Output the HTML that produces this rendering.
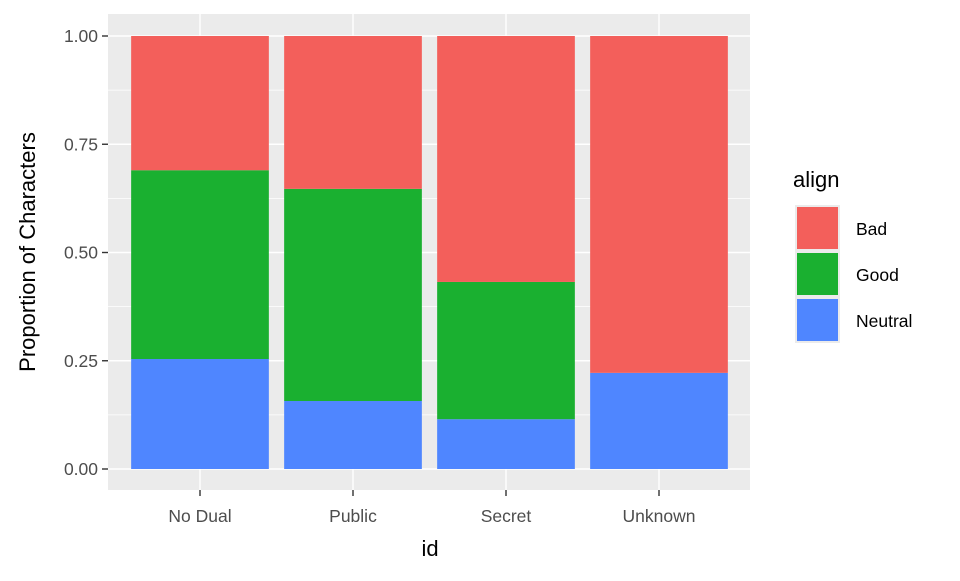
<!DOCTYPE html>
<html><head><meta charset="utf-8"><style>
body{margin:0;background:#fff;font-family:"Liberation Sans",Arial,sans-serif}
</style></head><body>
<svg id="chart" width="960" height="576" xmlns="http://www.w3.org/2000/svg">
<rect x="108" y="14" width="642" height="476" fill="#EBEBEB"/>
<g id="grid"></g>
<g id="bars"></g>
<g id="axes" font-size="17.5" fill="#4D4D4D"></g>
<text x="430" y="556" font-size="22" text-anchor="middle" fill="#000">id</text>
<text transform="translate(35,252) rotate(-90)" font-size="22" text-anchor="middle" fill="#000">Proportion of Characters</text>
<g>
<text x="793" y="187" font-size="22" fill="#000">align</text>
<g id="legend"></g>
</g>
</svg>
<script>
const categories=["No Dual","Public","Secret","Unknown"];
const neutral=[0.254,0.157,0.115,0.222];
const good=[0.436,0.490,0.317,0];
const bad=[0.310,0.353,0.568,0.778];
const yTicks=[0,0.25,0.5,0.75,1];
const yTickLabels=["0.00","0.25","0.50","0.75","1.00"];
const seriesNames=["Bad","Good","Neutral"];
const colors={Bad:"#F35F5B",Good:"#1AB030",Neutral:"#4F86FF"};
const ns="http://www.w3.org/2000/svg";
const y0=469,y1=36,step=153,xStart=200;
function yS(v){return y0-(y0-y1)*v;}
function xS(i){return xStart+step*i;}
function mk(t,a,p){const e=document.createElementNS(ns,t);for(const k in a)e.setAttribute(k,a[k]);p.appendChild(e);return e;}
const grid=document.getElementById('grid'),bars=document.getElementById('bars'),axes=document.getElementById('axes');
yTicks.forEach((v,i)=>{
 if(i<yTicks.length-1){const m=(v+yTicks[i+1])/2;const l=mk('line',{x1:108,x2:750,y1:yS(m),y2:yS(m),stroke:'#fff','stroke-width':0.7},grid);
 
 }
 const g=mk('line',{x1:108,x2:750,y1:yS(v),y2:yS(v),stroke:'#fff','stroke-width':1.4},grid);
 
 
 const t=mk('line',{x1:102,x2:108,y1:yS(v),y2:yS(v),stroke:'#333','stroke-width':1.4},axes);
 
 
 const tx=mk('text',{x:98,y:yS(v)+6,'text-anchor':'end'},axes);tx.textContent=yTickLabels[i];
 
 
});
categories.forEach((c,i)=>{
 const g=mk('line',{x1:xS(i),x2:xS(i),y1:14,y2:490,stroke:'#fff','stroke-width':1.4},grid);
 
 
 const w=137.7,x=xS(i)-w/2;
 const segs=[["Neutral",0,neutral[i]],["Good",neutral[i],neutral[i]+good[i]],["Bad",neutral[i]+good[i],1]];
 segs.forEach(s=>{if(s[2]-s[1]<=0)return;
  const r=mk('rect',{x:x,width:w,y:yS(s[2]),height:yS(s[1])-yS(s[2]),fill:colors[s[0]]},bars);
  
  });
 const t=mk('line',{x1:xS(i),x2:xS(i),y1:490,y2:496,stroke:'#333','stroke-width':1.4},axes);
 
 
 const tx=mk('text',{x:xS(i),y:522,'text-anchor':'middle'},axes);tx.textContent=c;
 
 
});
const lg=document.getElementById('legend');
seriesNames.forEach((n,i)=>{
 const y=206+i*46;
 const r=mk('rect',{x:796,y:y,width:43,height:44,fill:colors[n],stroke:'#EBEBEB','stroke-width':2},lg);
 
 
 const t=mk('text',{x:856,y:y+29,'font-size':'17.5','fill':'#000'},lg);t.textContent=n;
 
 
});
</script>
</body></html>
